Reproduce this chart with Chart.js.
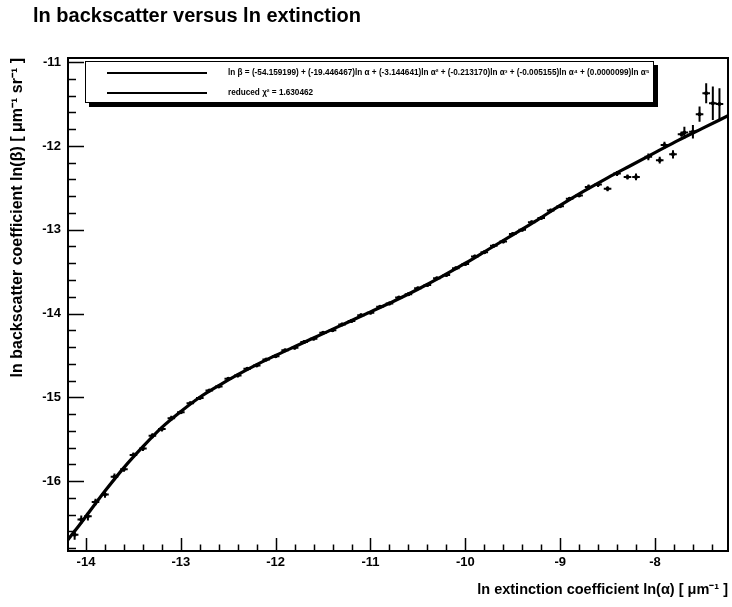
<!DOCTYPE html>
<html>
<head>
<meta charset="utf-8">
<script src="https://cdn.jsdelivr.net/npm/chart.js@4.4.1/dist/chart.umd.min.js"></script>
<style>
  html, body { margin: 0; padding: 0; background: #fff; }
  #wrap { position: relative; width: 732px; height: 607px; overflow: hidden; }
  #title { position: absolute; left: 33px; top: 5px; font: bold 20px "Liberation Sans", Arial, sans-serif; line-height: 20px; color: #000; white-space: nowrap; }
  #legend { position: absolute; left: 85px; top: 61px; width: 567px; height: 40px; border: 1px solid #000; background: #fff; box-shadow: 4px 4px 0 #000; }
  .row { position: absolute; left: 0; height: 12px; width: 100%; }
  .sample { position: absolute; left: 21px; width: 100px; top: 5px; height: 0; border-top: 2px solid #000; }
  .txt { position: absolute; left: 142px; top: 0; font: bold 8.2px "Liberation Sans", Arial, sans-serif; line-height: 12px; white-space: nowrap; color: #000; }
</style>
</head>
<body>
<div id="wrap">
  <canvas id="c" width="732" height="607"></canvas>
  <div id="title">ln backscatter versus ln extinction</div>
  <div id="legend">
    <div class="row" style="top:5px"><div class="sample"></div><div class="txt">ln β = (-54.159199) + (-19.446467)ln α + (-3.144641)ln α² + (-0.213170)ln α³ + (-0.005155)ln α⁴ + (0.0000099)ln α⁵</div></div>
    <div class="row" style="top:25px"><div class="sample"></div><div class="txt">reduced χ² = 1.630462</div></div>
  </div>
</div>
<script>
// ---- data ----
const dataX = [-14.12,-14.05,-13.98,-13.9,-13.8,-13.7,-13.6,-13.5,-13.4,-13.3,-13.2,-13.1,-13.0,-12.9,-12.8,-12.7,-12.6,-12.5,-12.4,-12.3,-12.2,-12.1,-12.0,-11.9,-11.8,-11.7,-11.6,-11.5,-11.4,-11.3,-11.2,-11.1,-11.0,-10.9,-10.8,-10.7,-10.6,-10.5,-10.4,-10.3,-10.2,-10.1,-10.0,-9.9,-9.8,-9.7,-9.6,-9.5,-9.4,-9.3,-9.2,-9.1,-9.0,-8.9,-8.8,-8.7,-8.6,-8.5,-8.4,-8.29,-8.2,-8.07,-7.95,-7.9,-7.81,-7.72,-7.69,-7.6,-7.53,-7.46,-7.39,-7.32];
const dataY = [-16.64,-16.46,-16.42,-16.25,-16.16,-15.95,-15.86,-15.69,-15.61,-15.46,-15.38,-15.25,-15.18,-15.07,-15.01,-14.92,-14.87,-14.78,-14.74,-14.66,-14.62,-14.55,-14.51,-14.44,-14.41,-14.34,-14.30,-14.23,-14.20,-14.13,-14.09,-14.02,-13.99,-13.92,-13.88,-13.81,-13.77,-13.70,-13.66,-13.58,-13.54,-13.46,-13.41,-13.32,-13.27,-13.19,-13.14,-13.05,-13.00,-12.91,-12.86,-12.77,-12.72,-12.63,-12.59,-12.49,-12.46,-12.51,-12.33,-12.37,-12.37,-12.13,-12.17,-11.99,-12.10,-11.86,-11.84,-11.83,-11.62,-11.37,-11.49,-11.50];
const errX = [0.04,0.04,0.04,0.04,0.04,0.04,0.04,0.04,0.04,0.04,0.04,0.04,0.04,0.04,0.04,0.04,0.04,0.04,0.04,0.04,0.04,0.04,0.04,0.04,0.04,0.04,0.04,0.04,0.04,0.04,0.04,0.04,0.04,0.04,0.04,0.04,0.04,0.04,0.04,0.04,0.04,0.04,0.04,0.04,0.04,0.04,0.04,0.04,0.04,0.04,0.04,0.04,0.04,0.04,0.04,0.04,0.04,0.04,0.04,0.04,0.04,0.04,0.04,0.04,0.04,0.04,0.04,0.04,0.04,0.04,0.04,0.04];
const errY = [0.06,0.05,0.05,0.04,0.04,0.04,0.03,0.03,0.03,0.03,0.03,0.03,0.02,0.02,0.02,0.02,0.02,0.02,0.02,0.02,0.02,0.02,0.02,0.02,0.02,0.02,0.02,0.02,0.02,0.02,0.02,0.02,0.02,0.02,0.02,0.02,0.02,0.02,0.02,0.02,0.02,0.02,0.02,0.02,0.02,0.02,0.02,0.02,0.02,0.02,0.02,0.02,0.02,0.02,0.02,0.03,0.03,0.03,0.03,0.03,0.04,0.04,0.04,0.04,0.05,0.03,0.07,0.08,0.09,0.12,0.20,0.19];
const fitX = [-14.19,-14.1,-14.0,-13.8,-13.6,-13.4,-13.2,-13.0,-12.8,-12.6,-12.4,-12.2,-12.0,-11.75,-11.5,-11.25,-11.0,-10.75,-10.5,-10.25,-10.0,-9.75,-9.5,-9.25,-9.0,-8.75,-8.5,-8.25,-8.0,-7.75,-7.5,-7.23];
const fitY = [-16.70,-16.57,-16.42,-16.12,-15.84,-15.59,-15.36,-15.17,-15.00,-14.86,-14.73,-14.61,-14.50,-14.37,-14.24,-14.11,-13.98,-13.85,-13.71,-13.56,-13.40,-13.23,-13.06,-12.89,-12.71,-12.54,-12.38,-12.23,-12.08,-11.93,-11.79,-11.64];
const xTickValues = [-14,-13,-12,-11,-10,-9,-8];
const yTickValues = [-16,-15,-14,-13,-12,-11];
const xRange = [-14.19, -7.23];
const yRange = [-16.835, -10.95];
const xTitle = 'ln extinction coefficient ln(α) [ μm⁻¹ ]';
const yTitle = 'ln backscatter coefficient ln(β) [ μm⁻¹ sr⁻¹ ]';

const FONT = '"Liberation Sans", Arial, sans-serif';

const rootStyle = {
  id: 'rootStyle',
  beforeDatasetsDraw(chart) {
    const {ctx, chartArea: a, scales: {x, y}} = chart;
    ctx.save();
    ctx.beginPath(); ctx.rect(a.left, a.top, a.right - a.left, a.bottom - a.top); ctx.clip();
    ctx.strokeStyle = '#000'; ctx.lineWidth = 2;
    ctx.beginPath();
    for (let i = 0; i < dataX.length; i++) {
      const px = x.getPixelForValue(dataX[i]), py = y.getPixelForValue(dataY[i]);
      ctx.moveTo(x.getPixelForValue(dataX[i] - errX[i]), py);
      ctx.lineTo(x.getPixelForValue(dataX[i] + errX[i]), py);
      ctx.moveTo(px, y.getPixelForValue(dataY[i] - errY[i]));
      ctx.lineTo(px, y.getPixelForValue(dataY[i] + errY[i]));
    }
    ctx.stroke();
    ctx.restore();
  },
  afterDraw(chart) {
    const {ctx, chartArea: a, scales: {x, y}} = chart;
    ctx.save();
    ctx.strokeStyle = '#000';
    ctx.lineWidth = 1.5;
    ctx.beginPath();
    for (let v = Math.ceil(x.min * 5) / 5; v <= x.max + 1e-9; v += 0.2) {
      const major = Math.abs(v - Math.round(v)) < 1e-6;
      const px = Math.round(x.getPixelForValue(v)) + 0.5;
      const len = major ? 13 : 6.5;
      ctx.moveTo(px, a.bottom); ctx.lineTo(px, a.bottom - len);
    }
    for (let v = Math.ceil(y.min * 5) / 5; v <= y.max + 1e-9; v += 0.2) {
      const major = Math.abs(v - Math.round(v)) < 1e-6;
      const py = Math.round(y.getPixelForValue(v)) + 0.5;
      const len = major ? 16 : 8;
      ctx.moveTo(a.left, py); ctx.lineTo(a.left + len, py);
    }
    ctx.stroke();
    ctx.lineWidth = 2;
    ctx.strokeRect(a.left, a.top, a.right - a.left, a.bottom - a.top);
    ctx.restore();
  }
};

new Chart(document.getElementById('c'), {
  data: {
    datasets: [
      {
        type: 'line',
        label: 'fit',
        data: fitX.map((v, i) => ({x: v, y: fitY[i]})),
        borderColor: '#000',
        borderWidth: 3.2,
        pointRadius: 0,
        cubicInterpolationMode: 'monotone',
        fill: false,
        order: 0
      },
      {
        type: 'scatter',
        label: 'data',
        data: dataX.map((v, i) => ({x: v, y: dataY[i]})),
        backgroundColor: '#000',
        borderColor: '#000',
        pointRadius: 2,
        pointBorderWidth: 0,
        order: 1
      }
    ]
  },
  options: {
    responsive: false,
    animation: false,
    events: [],
    layout: { padding: { left: 0, right: 2, top: 58, bottom: 0 } },
    plugins: { legend: { display: false }, tooltip: { enabled: false }, title: { display: false } },
    scales: {
      x: {
        type: 'linear',
        position: 'bottom',
        min: xRange[0], max: xRange[1],
        afterBuildTicks: s => { s.ticks = xTickValues.map(v => ({value: v})); },
        afterFit: s => { s.height = 56; },
        grid: { display: false, drawTicks: false },
        border: { display: false },
        ticks: { color: '#000', padding: 4, maxRotation: 0, autoSkip: false, font: { family: FONT, size: 13, weight: 'bold' }, callback: v => String(v) },
        title: { display: true, text: xTitle, align: 'end', color: '#000', padding: { top: 0, bottom: 8 }, font: { family: FONT, size: 14.5, weight: 'bold' } }
      },
      y: {
        type: 'linear',
        position: 'left',
        min: yRange[0], max: yRange[1],
        afterBuildTicks: s => { s.ticks = yTickValues.map(v => ({value: v})); },
        afterFit: s => { s.width = 68; },
        grid: { display: false, drawTicks: false },
        border: { display: false },
        ticks: { color: '#000', padding: 7, autoSkip: false, font: { family: FONT, size: 13, weight: 'bold' }, callback: v => String(v) },
        title: { display: true, text: yTitle, align: 'end', color: '#000', padding: { top: 8, bottom: 0 }, font: { family: FONT, size: 16, weight: 'bold' } }
      }
    }
  },
  plugins: [rootStyle]
});
</script>
</body>
</html>
